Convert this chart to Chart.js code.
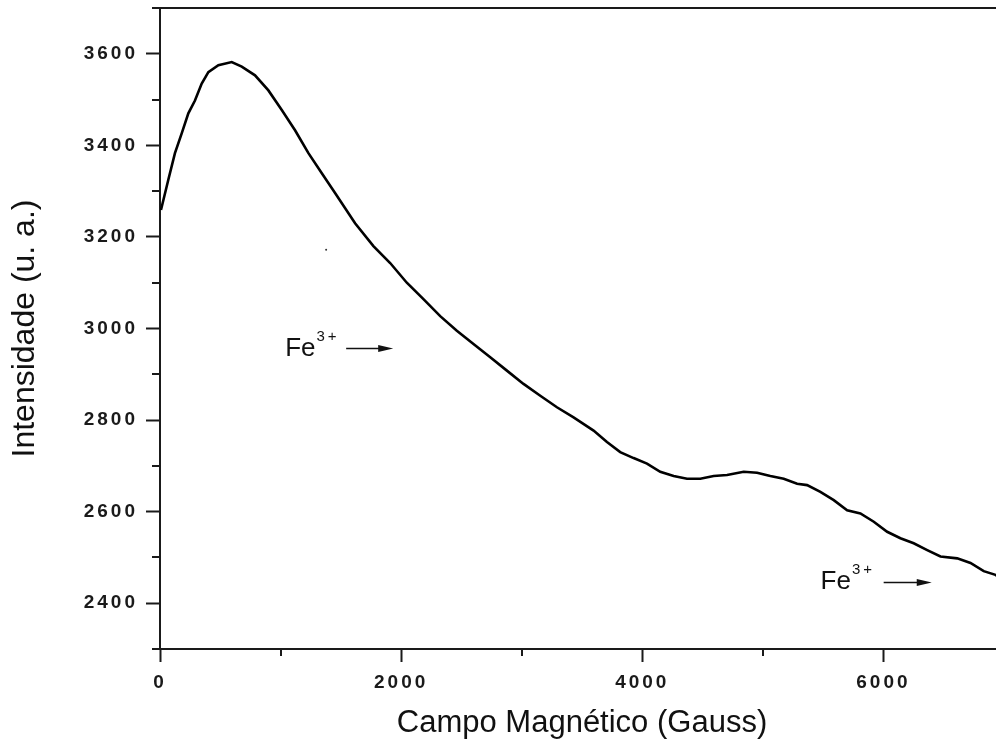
<!DOCTYPE html>
<html><head><meta charset="utf-8">
<script src="https://cdn.jsdelivr.net/npm/chart.js@4/dist/chart.umd.min.js"></script>
<style>html,body{margin:0;padding:0;background:#fff;overflow:hidden;width:996px;height:747px}canvas{display:block}</style>
</head><body>
<canvas id="c" width="1008" height="747"></canvas>
<script>
// ---- data ----
const fieldGauss = [8,69,124,180,235,290,346,401,484,595,678,788,899,1010,1120,1231,1342,1452,1618,1770,1909,2047,2185,2324,2462,2600,2739,2877,3015,3154,3292,3430,3596,3707,3817,3928,4039,4149,4260,4371,4481,4592,4703,4841,4952,5062,5173,5284,5367,5477,5588,5699,5809,5920,6031,6141,6251,6363,6473,6612,6722,6832,6929,7000];
const intensity = [3259,3325,3383,3426,3470,3498,3535,3560,3575,3582,3572,3553,3520,3477,3433,3383,3339,3296,3230,3180,3143,3100,3064,3027,2995,2966,2937,2908,2879,2853,2828,2806,2777,2752,2730,2717,2705,2687,2678,2672,2672,2678,2680,2687,2685,2678,2672,2661,2658,2643,2625,2603,2596,2578,2556,2542,2531,2516,2502,2498,2488,2470,2462,2450];
const speckX = [1378];
const speckY = [3172];
const xTickLabels = [0, 2000, 4000, 6000];
const yTickLabels = [2400, 2600, 2800, 3000, 3200, 3400, 3600];
const xTitle = 'Campo Magnético (Gauss)';
const yTitle = 'Intensidade (u. a.)';
const annotText = ['Fe', 'Fe'];
const annotSup = ['3+', '3+'];
const annotX = [1038, 5479];
const annotY = [2940, 2430];
const arrowFromX = [1544, 6002];
const arrowToX = [1934, 6401];
const arrowY = [2958, 2447];

// ---- chart ----
const FONT = '"Liberation Sans", Arial, sans-serif';
const AX = '#1a1a1a';

const framePlugin = {
  id: 'frame',
  beforeDraw(chart) { chart.ctx.letterSpacing = '0px'; },
  afterDatasetsDraw(chart) { chart.ctx.letterSpacing = '3px'; },
  afterDraw(chart) {
    const ctx = chart.ctx;
    ctx.letterSpacing = '0px';
    const {left, right, top, bottom} = chart.chartArea;
    const xs = chart.scales.x, ys = chart.scales.y;
    ctx.save();
    ctx.strokeStyle = AX;
    ctx.lineWidth = 2;
    ctx.beginPath();
    ctx.moveTo(left - 1, top); ctx.lineTo(right + 10, top);
    ys.ticks.forEach(t => {
      if (!yTickLabels.includes(t.value)) {
        const p = Math.round(ys.getPixelForValue(t.value));
        ctx.moveTo(left - 8, p); ctx.lineTo(left, p);
      }
    });
    xs.ticks.forEach(t => {
      if (!xTickLabels.includes(t.value)) {
        const p = Math.round(xs.getPixelForValue(t.value));
        ctx.moveTo(p, bottom); ctx.lineTo(p, bottom + 7);
      }
    });
    ctx.stroke();
    // annotations
    ctx.fillStyle = '#111';
    ctx.strokeStyle = '#111';
    for (let i = 0; i < annotText.length; i++) {
      const tx = xs.getPixelForValue(annotX[i]);
      const ty = ys.getPixelForValue(annotY[i]);
      ctx.font = '26px ' + FONT;
      ctx.textAlign = 'left';
      ctx.textBaseline = 'alphabetic';
      ctx.letterSpacing = '0px';
      ctx.fillText(annotText[i], tx, ty);
      const w = ctx.measureText(annotText[i]).width;
      ctx.font = '15px ' + FONT;
      ctx.letterSpacing = '3px';
      ctx.fillText(annotSup[i], tx + w + 1, ty - 15);
      ctx.letterSpacing = '0px';
      const a0 = xs.getPixelForValue(arrowFromX[i]);
      const a1 = xs.getPixelForValue(arrowToX[i]);
      const ay = Math.round(ys.getPixelForValue(arrowY[i])) + 0.5;
      ctx.lineWidth = 1.5;
      ctx.beginPath(); ctx.moveTo(a0, ay); ctx.lineTo(a1 - 8, ay); ctx.stroke();
      ctx.beginPath();
      ctx.moveTo(a1, ay); ctx.lineTo(a1 - 15, ay - 3.5); ctx.lineTo(a1 - 15, ay + 3.5); ctx.closePath();
      ctx.fill();
    }
    ctx.restore();
  }
};

new Chart(document.getElementById('c'), {
  type: 'line',
  data: {
    datasets: [
      {
        data: fieldGauss.map((x, i) => ({x, y: intensity[i]})),
        borderColor: '#000', borderWidth: 2.6, pointRadius: 0, tension: 0, fill: false
      },
      {
        data: speckX.map((x, i) => ({x, y: speckY[i]})),
        showLine: false, pointRadius: 1, pointBackgroundColor: '#333', pointBorderWidth: 0
      }
    ]
  },
  options: {
    responsive: false,
    animation: false,
    devicePixelRatio: 1,
    layout: {padding: {top: 8, right: 0, left: 0, bottom: 0}},
    plugins: {legend: {display: false}, tooltip: {enabled: false}},
    scales: {
      x: {
        type: 'linear', min: 0, max: 7000,
        afterFit(s) { s.height = 98; s.paddingLeft = 0; s.paddingRight = 0; },
        afterBuildTicks(s) { s.ticks = [0,1000,2000,3000,4000,5000,6000,7000].map(v => ({value: v})); },
        ticks: {
          autoSkip: false, maxRotation: 0, z: 1,
          padding: 9, color: AX, font: {family: FONT, size: 19, weight: 'bold'},
          callback: v => xTickLabels.includes(v) ? String(v) : ''
        },
        grid: {
          drawOnChartArea: false, drawTicks: true, tickLength: 13, tickWidth: 2,
          tickColor: c => xTickLabels.includes(c.tick.value) ? AX : 'rgba(0,0,0,0)'
        },
        border: {display: true, color: AX, width: 2},
        title: {display: true, text: xTitle, color: '#111', font: {family: FONT, size: 31}, padding: {top: 0, bottom: 5}}
      },
      y: {
        type: 'linear', min: 2300, max: 3700,
        afterFit(s) { s.width = 160; s.paddingTop = 0; s.paddingBottom = 0; },
        ticks: {
          stepSize: 100, autoSkip: false, z: 1,
          padding: 8, color: AX, font: {family: FONT, size: 19, weight: 'bold'},
          callback: v => yTickLabels.includes(v) ? String(v) : ''
        },
        grid: {
          drawOnChartArea: false, drawTicks: true, tickLength: 14, tickWidth: 2,
          tickColor: c => yTickLabels.includes(c.tick.value) ? AX : 'rgba(0,0,0,0)'
        },
        border: {display: true, color: AX, width: 2},
        title: {display: true, text: yTitle, color: '#111', font: {family: FONT, size: 32}, padding: {top: 6, bottom: 0}}
      }
    }
  },
  plugins: [framePlugin]
});
</script>
</body></html>
